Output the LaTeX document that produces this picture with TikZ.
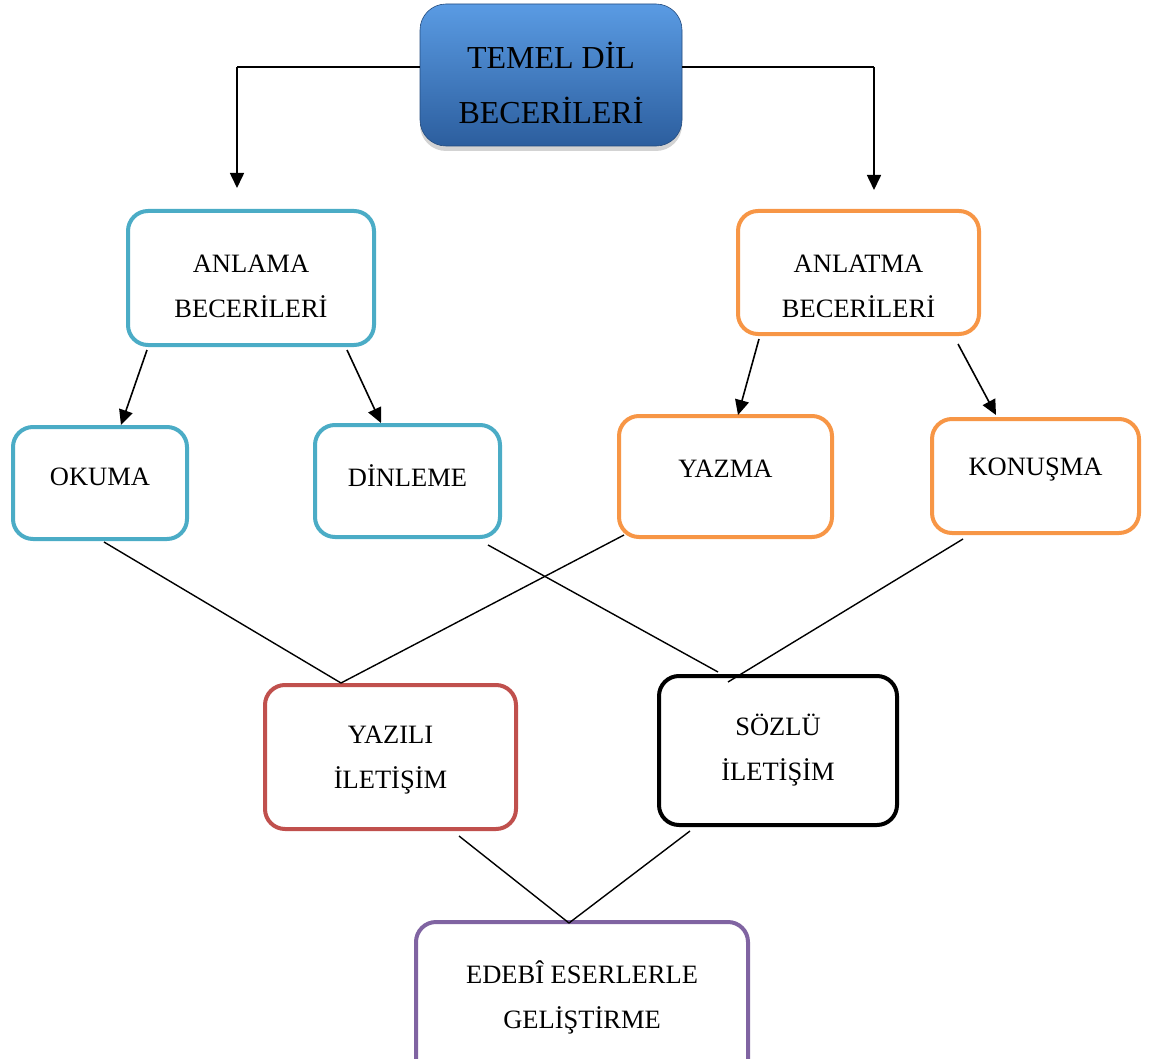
\documentclass[tikz,border=0pt]{standalone}
\usepackage{fontspec}
\setmainfont{Liberation Serif}
\usetikzlibrary{arrows.meta,shadows,calc}
\definecolor{cblue}{HTML}{4BACC6}
\definecolor{corange}{HTML}{F79646}
\definecolor{cred}{HTML}{C0504D}
\definecolor{cpurple}{HTML}{8064A2}
\definecolor{ttop}{HTML}{5A9BE3}
\definecolor{tbot}{HTML}{2C5E9E}
\begin{document}
\begin{tikzpicture}[x=1pt,y=-1pt,
  box/.style={draw,line width=4pt,rounded corners=20pt,fill=white},
  txt/.style={align=center,inner sep=0pt,font=\fontsize{26.5}{45}\selectfont},
  conn/.style={line width=1.4pt},
  arr/.style={line width=1.6pt,-{Triangle[length=15pt,width=14pt]}}]
\useasboundingbox (0,0) rectangle (1150,1059);
% top node
\node[rounded corners=26pt,minimum width=262pt,minimum height=142pt,
  top color=ttop,bottom color=tbot,draw=tbot!80!black,line width=0.6pt,
  drop shadow={shadow xshift=0pt,shadow yshift=-5pt,opacity=0.35}] (top) at (551,75) {};
\node[txt,font=\fontsize{32}{55}\selectfont] (toptxt) at (551,83) {TEMEL DİL\\BECERİLERİ};
% level 2
\node[box,draw=cblue,minimum width=246pt,minimum height=134pt] (anlama) at (251,278) {};
\node[txt] (anlamatxt) at (251,286) {ANLAMA\\BECERİLERİ};
\node[box,draw=corange,minimum width=241pt,minimum height=123pt] (anlatma) at (858.5,272.5) {};
\node[txt] (anlatmatxt) at (858.5,286) {ANLATMA\\BECERİLERİ};
% level 3
\node[box,draw=cblue,minimum width=174pt,minimum height=112pt] (okuma) at (100,483) {};
\node[txt] (okumatxt) at (100,477) {OKUMA};
\node[box,draw=cblue,minimum width=185pt,minimum height=112pt] (dinleme) at (407.5,481) {};
\node[txt] (dinlemetxt) at (407.5,476) {DİNLEME};
\node[box,draw=corange,minimum width=213pt,minimum height=121pt] (yazma) at (725.5,476.5) {};
\node[txt] (yazmatxt) at (725.5,469) {YAZMA};
\node[box,draw=corange,minimum width=207pt,minimum height=114pt] (konusma) at (1035.5,476) {};
\node[txt] (konusmatxt) at (1035.5,470) {KONUŞMA};
% level 4
\node[box,draw=cred,minimum width=251pt,minimum height=144pt] (yazili) at (390.5,757) {};
\node[txt] (yazilitxt) at (390.5,760) {YAZILI\\İLETİŞİM};
\node[box,draw=black,minimum width=238pt,minimum height=149pt] (sozlu) at (778,750.5) {};
\node[txt] (sozlutxt) at (778,750) {SÖZLÜ\\İLETİŞİM};
% bottom
\node[box,draw=cpurple,minimum width=332pt,minimum height=160pt] (edebi) at (582,1002) {};
\node[txt] (edebitxt) at (582,997) {EDEBÎ ESERLERLE\\GELİŞTİRME};
% arrows from top
\coordinate (lt) at (237,67);
\coordinate (lb) at (237,188);
\coordinate (rt) at (874,67);
\coordinate (rb) at (874,190);
\draw[conn] (top.west |- lt) -- (lt);
\draw[arr] (lt) -- (lb);
\draw[conn] (top.east |- rt) -- (rt);
\draw[arr] (rt) -- (rb);
% arrows level 2 -> 3
\draw[arr] ($(anlama.south west)+(21,3)$) -- ($(okuma.north west)+(110,0)$);
\draw[arr] ($(anlama.south west)+(221,3)$) -- ($(dinleme.north west)+(68,0)$);
\draw[arr] ($(anlatma.south west)+(23,3)$) -- ($(yazma.north west)+(121,1)$);
\draw[arr] ($(anlatma.south west)+(222,8)$) -- ($(konusma.north west)+(66,-2)$);
% lines level 3 -> 4
\draw[conn] ($(okuma.south west)+(93,1)$) -- ($(yazili.north west)+(78,0)$);
\draw[conn] ($(yazma.south west)+(7,-4)$) -- ($(yazili.north west)+(78,0)$);
\draw[conn] ($(dinleme.south west)+(175,6)$) -- ($(sozlu.north west)+(61,-2)$);
\draw[conn] ($(konusma.south west)+(33,4)$) -- ($(sozlu.north west)+(71,8)$);
% lines level 4 -> 5
\draw[conn] ($(yazili.south west)+(196,5)$) -- ($(edebi.north west)+(155,3)$);
\draw[conn] ($(sozlu.south west)+(33,4)$) -- ($(edebi.north west)+(155,3)$);
\end{tikzpicture}
\end{document}
